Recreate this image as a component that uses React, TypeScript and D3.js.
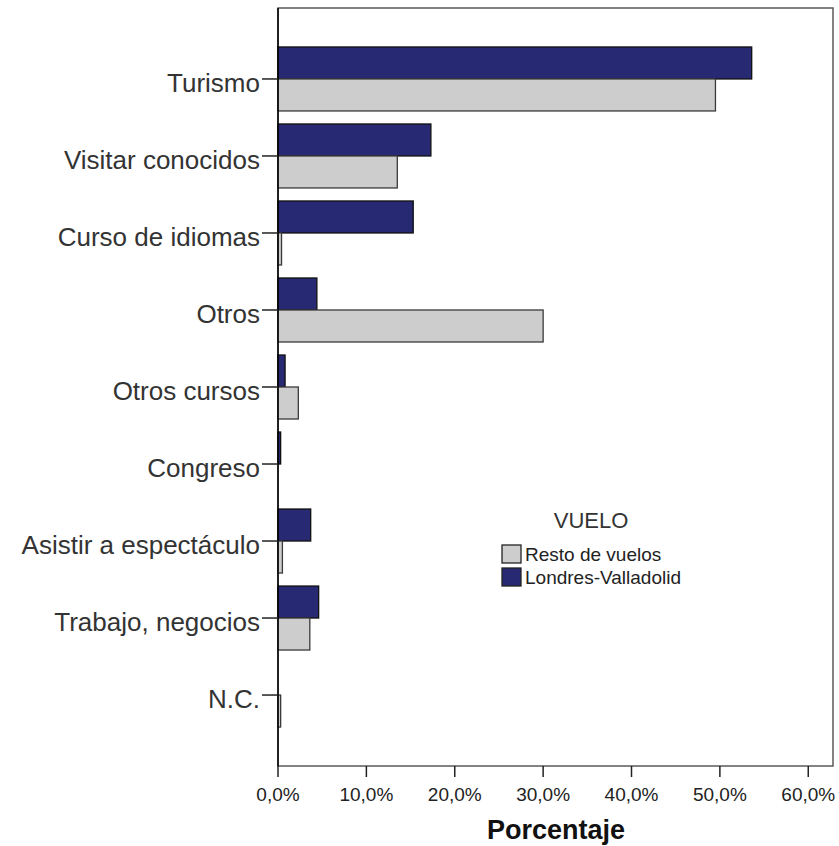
import React, { useRef, useEffect } from "react";
import * as d3 from "d3";

// categories (top to bottom)
const categories = [
    "Turismo",
    "Visitar conocidos",
    "Curso de idiomas",
    "Otros",
    "Otros cursos",
    "Congreso",
    "Asistir a espectáculo",
    "Trabajo, negocios",
    "N.C.",
];

// percentages per series
const londresValladolid = [53.6, 17.3, 15.3, 4.4, 0.8, 0.3, 3.7, 4.6, 0];
const restoDeVuelos = [49.5, 13.5, 0.4, 30.0, 2.3, 0, 0.5, 3.6, 0.3];

const seriesNames = ["Londres-Valladolid", "Resto de vuelos"];
const legendOrder = ["Resto de vuelos", "Londres-Valladolid"];
const xTicks = [0, 10, 20, 30, 40, 50, 60];

const colors: Record<string, string> = {
    "Londres-Valladolid": "#272a72",
    "Resto de vuelos": "#cdcdcd",
};
const strokes: Record<string, string> = {
    "Londres-Valladolid": "#111111",
    "Resto de vuelos": "#3a3a3a",
};

const App: React.FC = () => {
    const svgRef = useRef<SVGSVGElement | null>(null);
    const width = 839;
    const height = 846;

    useEffect(() => {
        if (!svgRef.current) return;
        d3.select(svgRef.current).selectAll("*").remove();

        const svg = d3.select(svgRef.current);
        const font = "'Liberation Sans', Arial, sans-serif";

        const plot = { left: 278, right: 833, top: 8, bottom: 766 };

        const x = d3
            .scaleLinear()
            .domain([0, 62.8])
            .range([plot.left, plot.right]);

        const y = d3
            .scaleBand<string>()
            .domain(categories)
            .range([plot.top, plot.bottom])
            .paddingInner(0.169)
            .paddingOuter(0.506);

        const ySub = d3
            .scaleBand<string>()
            .domain(seriesNames)
            .range([0, y.bandwidth()]);

        svg.append("rect")
            .attr("width", width)
            .attr("height", height)
            .attr("fill", "#ffffff");

        // frame
        svg.append("rect")
            .attr("x", plot.left)
            .attr("y", plot.top)
            .attr("width", plot.right - plot.left)
            .attr("height", plot.bottom - plot.top)
            .attr("fill", "none")
            .attr("stroke", "#5a5a5a")
            .attr("stroke-width", 1.5);

        // bars
        const data = categories.flatMap((c, i) => [
            { category: c, series: "Londres-Valladolid", value: londresValladolid[i] },
            { category: c, series: "Resto de vuelos", value: restoDeVuelos[i] },
        ]);

        svg.append("g")
            .selectAll("rect")
            .data(data.filter((d) => d.value > 0))
            .enter()
            .append("rect")
            .attr("x", x(0))
            .attr("y", (d) => y(d.category)! + ySub(d.series)!)
            .attr("width", (d) => x(d.value) - x(0))
            .attr("height", ySub.bandwidth())
            .attr("fill", (d) => colors[d.series])
            .attr("stroke", (d) => strokes[d.series])
            .attr("stroke-width", 1.3);

        // left axis
        const yAxis = svg.append("g");
        yAxis.append("line")
            .attr("x1", plot.left)
            .attr("x2", plot.left)
            .attr("y1", plot.top)
            .attr("y2", plot.bottom)
            .attr("stroke", "#000")
            .attr("stroke-width", 1.5);

        const yTick = yAxis
            .selectAll("g.tick")
            .data(categories)
            .enter()
            .append("g")
            .attr("transform", (d) => `translate(0,${y(d)! + y.bandwidth() / 2})`);
        yTick.append("line")
            .attr("x1", 262)
            .attr("x2", plot.left)
            .attr("stroke", "#222")
            .attr("stroke-width", 1.5);
        yTick.append("text")
            .attr("x", 260)
            .attr("dy", 13)
            .attr("text-anchor", "end")
            .attr("font-family", font)
            .attr("font-size", 26)
            .attr("fill", "#333")
            .text((d) => d);

        // bottom axis
        const xTick = svg
            .append("g")
            .selectAll("g")
            .data(xTicks)
            .enter()
            .append("g")
            .attr("transform", (d) => `translate(${x(d)},0)`);
        xTick.append("line")
            .attr("y1", plot.bottom)
            .attr("y2", plot.bottom + 11)
            .attr("stroke", "#222")
            .attr("stroke-width", 1.5);
        xTick.append("text")
            .attr("y", 801)
            .attr("text-anchor", "middle")
            .attr("font-family", font)
            .attr("font-size", 19)
            .attr("fill", "#222")
            .text((d) => `${d},0%`);

        svg.append("text")
            .attr("x", 556)
            .attr("y", 839)
            .attr("text-anchor", "middle")
            .attr("font-family", font)
            .attr("font-size", 27)
            .attr("font-weight", "bold")
            .attr("fill", "#111")
            .text("Porcentaje");

        // legend
        const legend = svg.append("g");
        legend.append("text")
            .attr("x", 591)
            .attr("y", 528)
            .attr("text-anchor", "middle")
            .attr("font-family", font)
            .attr("font-size", 22)
            .attr("fill", "#333")
            .text("VUELO");

        const item = legend
            .selectAll("g.item")
            .data(legendOrder)
            .enter()
            .append("g")
            .attr("transform", (d, i) => `translate(502,${545 + i * 23})`);
        item.append("rect")
            .attr("width", 19)
            .attr("height", 18)
            .attr("fill", (d) => colors[d])
            .attr("stroke", "#222")
            .attr("stroke-width", 1.3);
        item.append("text")
            .attr("x", 23)
            .attr("y", 16)
            .attr("font-family", font)
            .attr("font-size", 19)
            .attr("fill", "#222")
            .text((d) => d);
    }, []);

    return (
        <svg
            ref={svgRef}
            width={width}
            height={height}
            style={{ position: "absolute", left: 0, top: 0 }}
        ></svg>
    );
};

export default App;
